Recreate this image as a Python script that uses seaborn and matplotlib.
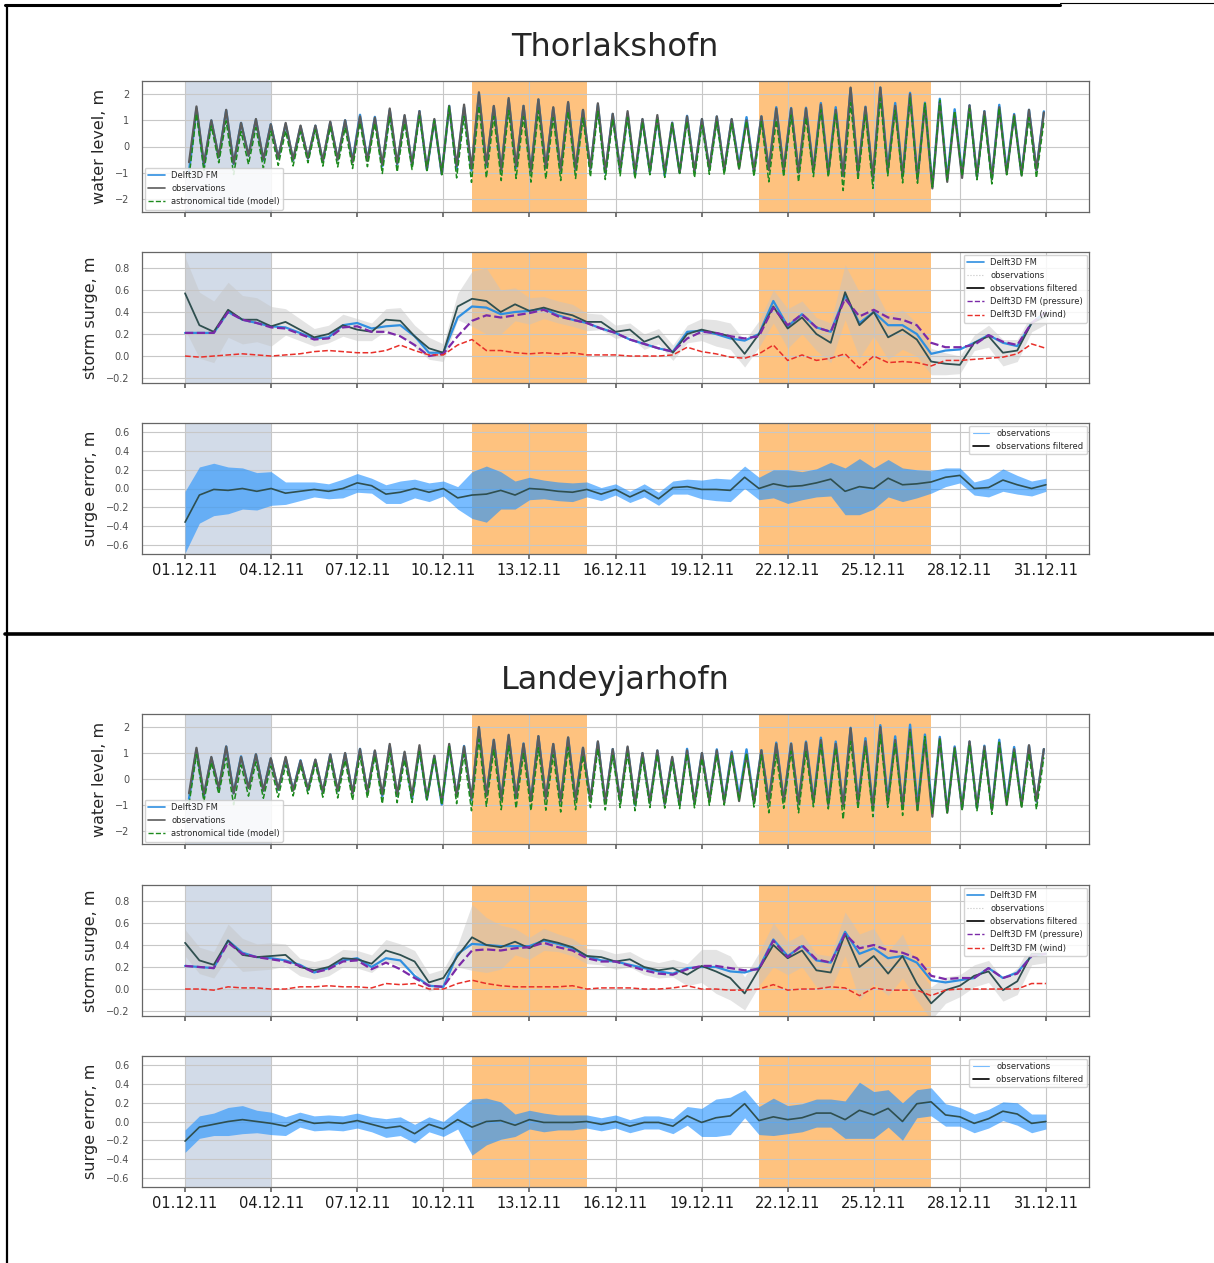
import numpy as np
import pandas as pd
import matplotlib
matplotlib.use("Agg")
import matplotlib.pyplot as plt
import matplotlib.dates as mdates
from matplotlib.lines import Line2D
import seaborn as sns

# ==============================================================================
# DATA
# ==============================================================================
# half-day axis for the surge curves, 01.12.11 00:00 ... 31.12.11 00:00
T_HALF = pd.date_range("2011-12-01", "2011-12-31", freq="12h")
# tidal extremes (LW, HW, LW, ...), one every 6.21 h, first low water 01.12 03:20
T_EXT = pd.date_range("2011-12-01 03:20", periods=116, freq="373min")
TICK_DATES = pd.date_range("2011-12-01", "2011-12-31", freq="3D")

SPAN_START = ["2011-12-01", "2011-12-11", "2011-12-21"]
SPAN_END = ["2011-12-04", "2011-12-15", "2011-12-27"]
SPAN_COLORS = ["#d2dbe8", "#fec27f", "#fec27f"]

# --- Thorlakshofn ---
THOR_OBS_HW = [1.53, 1.00, 1.40, 0.90, 1.05, 0.85, 0.90, 0.80, 0.80, 0.95,
               1.00, 1.15, 1.10, 1.45, 1.20, 1.35, 1.05, 1.55, 1.60, 2.07,
               1.55, 1.85, 1.55, 1.80, 1.50, 1.70, 1.40, 1.65, 1.25, 1.35,
               1.05, 1.20, 0.90, 1.15, 1.05, 1.15, 1.05, 1.00, 1.15, 1.45,
               1.45, 1.45, 1.60, 1.40, 2.25, 1.50, 2.25, 1.55, 2.00, 1.60,
               1.70, 1.28, 1.57, 1.34, 1.50, 1.20, 1.40, 1.30]
THOR_OBS_LW = [-0.60, -0.65, -0.40, -0.65, -0.35, -0.50,
               -0.45, -0.50, -0.45, -0.55, -0.50, -0.60, -0.55,
               -0.70, -0.65, -0.70, -0.85, -1.05,
               -0.75, -0.85, -0.70, -0.90, -0.75, -0.95, -0.80, -0.90, -0.85,
               -0.85, -0.95, -0.90, -1.00, -0.95, -1.00, -1.00, -0.95, -0.85,
               -0.90, -0.85, -0.95, -0.90, -0.90, -1.00, -0.95,
               -1.05, -1.10, -1.00, -1.20, -0.95, -1.15, -1.25, -1.60,
               -1.35, -1.20, -1.15, -1.25, -1.05, -1.10, -0.90]
THOR_SURGE_OBS = [0.57, 0.28, 0.22, 0.42, 0.33, 0.33, 0.27, 0.31, 0.24, 0.17,
                  0.20, 0.28, 0.24, 0.22, 0.33, 0.32, 0.18, 0.07, 0.03, 0.45,
                  0.52, 0.50, 0.40, 0.47, 0.41, 0.44, 0.40, 0.37, 0.31, 0.31,
                  0.22, 0.24, 0.13, 0.18, 0.03, 0.20, 0.24, 0.21, 0.18, 0.02,
                  0.20, 0.45, 0.25, 0.35, 0.20, 0.12, 0.58, 0.28, 0.40, 0.17,
                  0.24, 0.15, -0.05, -0.07, -0.08, 0.12, 0.18, 0.03, 0.05, 0.30,
                  0.36]
THOR_SURGE_MODEL = [0.21, 0.21, 0.21, 0.40, 0.33, 0.30, 0.27, 0.26, 0.21, 0.16,
                    0.17, 0.28, 0.30, 0.25, 0.27, 0.28, 0.18, 0.03, 0.03, 0.35,
                    0.45, 0.44, 0.38, 0.40, 0.41, 0.43, 0.37, 0.33, 0.30, 0.25,
                    0.21, 0.15, 0.11, 0.07, 0.04, 0.22, 0.23, 0.20, 0.16, 0.14,
                    0.20, 0.50, 0.27, 0.38, 0.26, 0.22, 0.55, 0.30, 0.40, 0.28,
                    0.28, 0.20, 0.02, 0.05, 0.06, 0.12, 0.19, 0.12, 0.09, 0.30,
                    0.40]
THOR_SURGE_PRESSURE = [0.21, 0.21, 0.21, 0.40, 0.33, 0.30, 0.26, 0.25, 0.20, 0.15,
                       0.16, 0.26, 0.27, 0.22, 0.22, 0.18, 0.10, 0.00, 0.02, 0.18,
                       0.32, 0.37, 0.35, 0.37, 0.39, 0.42, 0.36, 0.33, 0.30, 0.25,
                       0.21, 0.15, 0.11, 0.07, 0.04, 0.16, 0.22, 0.21, 0.18, 0.16,
                       0.18, 0.44, 0.28, 0.38, 0.26, 0.22, 0.52, 0.36, 0.42, 0.35,
                       0.33, 0.28, 0.12, 0.08, 0.08, 0.10, 0.19, 0.13, 0.10, 0.30,
                       0.40]
THOR_SURGE_WIND = [0.00, -0.01, 0.00, 0.01, 0.02, 0.01, 0.00, 0.01, 0.02, 0.04,
                   0.05, 0.04, 0.03, 0.03, 0.05, 0.10, 0.05, 0.01, 0.01, 0.10,
                   0.15, 0.05, 0.05, 0.03, 0.02, 0.03, 0.02, 0.03, 0.01, 0.01,
                   0.01, 0.00, 0.00, 0.00, 0.01, 0.08, 0.04, 0.02, -0.01, -0.02,
                   0.02, 0.10, -0.04, 0.01, -0.04, -0.02, 0.02, -0.11, 0.00, -0.06,
                   -0.05, -0.06, -0.09, -0.04, -0.04, -0.03, -0.02, -0.01, 0.02, 0.11,
                   0.07]
# half-width of the noisy (unfiltered) observation band
THOR_NOISE = [0.33, 0.30, 0.28, 0.25, 0.22, 0.20, 0.18, 0.12,
              0.10, 0.08, 0.08, 0.10, 0.10, 0.08, 0.10, 0.12, 0.10, 0.10, 0.08, 0.12,
              0.25, 0.30, 0.20, 0.15, 0.12, 0.10, 0.10, 0.10,
              0.08, 0.07, 0.06, 0.06, 0.07, 0.07, 0.07, 0.08, 0.10, 0.12, 0.12, 0.12,
              0.12, 0.15, 0.18, 0.15, 0.15, 0.18, 0.25, 0.30, 0.22, 0.20, 0.18, 0.15, 0.12, 0.10,
              0.08, 0.07, 0.10, 0.12, 0.10, 0.08, 0.07]

# --- Landeyjarhofn ---
LAND_OBS_HW = [1.20, 0.85, 1.25, 0.85, 0.95, 0.80, 0.85, 0.70, 0.75, 0.95,
               1.00, 1.15, 1.10, 1.35, 1.05, 1.30, 0.90, 1.35, 1.25, 2.00,
               1.50, 1.70, 1.35, 1.65, 1.35, 1.60, 1.20, 1.45, 1.15, 1.25,
               1.00, 1.10, 0.85, 1.10, 1.00, 1.10, 1.00, 0.95, 1.10, 1.35,
               1.35, 1.40, 1.50, 1.35, 1.95, 1.45, 2.00, 1.50, 1.90, 1.50,
               1.55, 1.20, 1.45, 1.25, 1.40, 1.15, 1.30, 1.15]
LAND_OBS_LW = [-0.55, -0.60, -0.35, -0.55, -0.35, -0.45,
               -0.40, -0.45, -0.40, -0.50, -0.45, -0.55, -0.50,
               -0.60, -0.60, -0.65, -0.75, -0.90,
               -0.65, -0.75, -0.65, -0.80, -0.70, -0.85, -0.75, -0.85, -0.80,
               -0.80, -0.90, -0.85, -0.95, -0.90, -0.95, -0.95, -0.90, -0.85,
               -0.90, -0.85, -0.90, -0.90, -0.85, -0.95, -0.90,
               -1.00, -1.05, -0.95, -1.15, -0.95, -1.10, -1.20, -1.45,
               -1.30, -1.15, -1.10, -1.20, -1.00, -1.05, -0.85]
LAND_SURGE_OBS = [0.42, 0.26, 0.22, 0.44, 0.31, 0.29, 0.30, 0.31, 0.20, 0.17,
                  0.20, 0.28, 0.27, 0.23, 0.35, 0.31, 0.25, 0.06, 0.10, 0.30,
                  0.47, 0.40, 0.38, 0.43, 0.37, 0.45, 0.42, 0.38, 0.30, 0.29,
                  0.25, 0.27, 0.20, 0.17, 0.19, 0.13, 0.21, 0.16, 0.10, -0.04,
                  0.18, 0.40, 0.28, 0.35, 0.17, 0.15, 0.50, 0.20, 0.30, 0.14,
                  0.30, 0.05, -0.13, -0.01, 0.03, 0.12, 0.16, -0.01, 0.07, 0.32,
                  0.32]
LAND_SURGE_MODEL = [0.21, 0.20, 0.19, 0.44, 0.33, 0.29, 0.28, 0.26, 0.22, 0.15,
                    0.19, 0.26, 0.28, 0.20, 0.28, 0.26, 0.12, 0.03, 0.02, 0.32,
                    0.41, 0.40, 0.39, 0.39, 0.39, 0.44, 0.41, 0.37, 0.30, 0.26,
                    0.25, 0.22, 0.19, 0.16, 0.14, 0.19, 0.20, 0.20, 0.16, 0.15,
                    0.19, 0.45, 0.30, 0.39, 0.26, 0.24, 0.52, 0.32, 0.37, 0.28,
                    0.30, 0.24, 0.08, 0.06, 0.08, 0.10, 0.19, 0.10, 0.15, 0.30,
                    0.32]
LAND_SURGE_PRESSURE = [0.21, 0.20, 0.19, 0.42, 0.32, 0.29, 0.27, 0.25, 0.21, 0.15,
                       0.18, 0.25, 0.26, 0.18, 0.24, 0.18, 0.10, 0.03, 0.02, 0.20,
                       0.35, 0.36, 0.35, 0.37, 0.38, 0.42, 0.38, 0.35, 0.28, 0.25,
                       0.25, 0.21, 0.17, 0.14, 0.13, 0.18, 0.21, 0.21, 0.19, 0.17,
                       0.18, 0.44, 0.29, 0.40, 0.27, 0.24, 0.50, 0.37, 0.40, 0.35,
                       0.33, 0.28, 0.12, 0.09, 0.10, 0.10, 0.19, 0.10, 0.14, 0.30,
                       0.32]
LAND_SURGE_WIND = [0.00, 0.00, -0.01, 0.02, 0.01, 0.01, 0.00, 0.00, 0.02, 0.02,
                   0.03, 0.02, 0.02, 0.01, 0.05, 0.04, 0.05, 0.00, 0.00, 0.05,
                   0.08, 0.05, 0.03, 0.02, 0.02, 0.02, 0.02, 0.03, 0.00, 0.01,
                   0.01, 0.01, 0.00, 0.00, 0.01, 0.03, 0.00, 0.00, -0.01, -0.01,
                   0.00, 0.04, -0.01, 0.00, 0.00, 0.02, 0.01, -0.06, 0.01, -0.01,
                   -0.01, -0.01, -0.06, -0.01, 0.00, 0.00, 0.00, 0.00, 0.00, 0.05,
                   0.05]
LAND_NOISE = [0.12, 0.12, 0.12, 0.15, 0.15, 0.12, 0.12, 0.10,
              0.08, 0.08, 0.08, 0.08, 0.08, 0.08, 0.10, 0.10, 0.10, 0.08, 0.08, 0.10,
              0.30, 0.25, 0.20, 0.12, 0.10, 0.10, 0.08, 0.08,
              0.07, 0.07, 0.07, 0.07, 0.07, 0.07, 0.08, 0.10, 0.15, 0.20, 0.20, 0.15,
              0.15, 0.20, 0.15, 0.15, 0.15, 0.15, 0.20, 0.30, 0.25, 0.20, 0.20, 0.15, 0.15, 0.12,
              0.10, 0.10, 0.10, 0.10, 0.12, 0.10, 0.08]

# ==============================================================================
# STYLE
# ==============================================================================
C_MODEL = "#2f8fe0"
C_OBS = "#5c5c5c"
C_TIDE = "#1d8a1d"
C_FILT = "#2f4f4f"
C_PRES = "#7b2aa8"
C_WIND = "#e8302a"
C_ERR = "#1e90ff"
C_RAW = "#c4c4c4"

sns.set_theme(style="whitegrid", rc={
    "grid.color": "0.78", "grid.linewidth": 0.8,
    "axes.edgecolor": "0.4", "axes.linewidth": 0.9,
    "xtick.bottom": True, "xtick.major.size": 3.5, "xtick.color": "0.4",
    "ytick.left": False,
})
plt.rcParams["font.family"] = ["DejaVu Sans"]

W, H = 1214, 1263
fig = plt.figure(figsize=(W / 100, H / 100), dpi=100)


def add_ax(top, bottom):
    return fig.add_axes([142 / W, 1 - bottom / H, (1089 - 142) / W, (bottom - top) / H])


def style_ax(ax, ylabel, yticks, ylim, show_dates):
    for s, e, c in zip(SPAN_START, SPAN_END, SPAN_COLORS):
        ax.axvspan(pd.Timestamp(s), pd.Timestamp(e), color=c, lw=0, zorder=0.1)
    ax.set_axisbelow(True)
    ax.set_xlim(T_HALF[0] - pd.Timedelta("1.5D"), T_HALF[-1] + pd.Timedelta("1.5D"))
    ax.set_xticks(mdates.date2num(TICK_DATES))
    ax.xaxis.set_major_formatter(mdates.DateFormatter("%d.%m.%y"))
    ax.set_yticks(yticks)
    ax.set_ylim(*ylim)
    ax.set_ylabel(ylabel, fontsize=11.5, labelpad=6)
    ax.set_xlabel("")
    ax.tick_params(axis="y", labelsize=7, labelcolor="0.3", pad=3)
    ax.tick_params(axis="x", labelsize=10.5, labelcolor="0.1", pad=3,
                   labelbottom=show_dates)


def draw_station(boxes, title, title_y, obs_hw, obs_lw, s_obs, s_mod, s_pres, s_wind, noise):
    s_obs, s_mod, s_pres, s_wind, noise = map(np.asarray, (s_obs, s_mod, s_pres, s_wind, noise))
    # water level: observed extremes, tide = observed - observed surge of that half day
    wl_obs = np.empty(len(obs_hw) + len(obs_lw))
    wl_obs[0::2] = obs_lw
    wl_obs[1::2] = obs_hw
    half = np.asarray(np.rint((T_EXT - T_HALF[0]) / pd.Timedelta("12h")), dtype=int)
    wl_tide = wl_obs - s_obs[half]
    wl_model = wl_tide + s_mod[half]
    err_filt = s_mod - s_obs

    ax_wl, ax_ss, ax_er = [add_ax(t, b) for t, b in boxes]
    fig.text(615 / W, 1 - title_y / H, title, ha="center", va="center", fontsize=23)

    # --- water level ---
    sns.lineplot(x=T_EXT, y=wl_model, ax=ax_wl, color=C_MODEL, lw=1.7, legend=False)
    sns.lineplot(x=T_EXT, y=wl_obs, ax=ax_wl, color=C_OBS, lw=1.6, legend=False)
    sns.lineplot(x=T_EXT, y=wl_tide, ax=ax_wl, color=C_TIDE, lw=1.1, linestyle="--", legend=False)
    style_ax(ax_wl, "water level, m", [-2, -1, 0, 1, 2], (-2.5, 2.5), False)
    ax_wl.legend(handles=[Line2D([], [], color=C_MODEL, lw=1.2, label="Delft3D FM"),
                          Line2D([], [], color=C_OBS, lw=1.2, label="observations"),
                          Line2D([], [], color=C_TIDE, lw=1.0, ls="--", label="astronomical tide (model)")],
                 loc="lower left", fontsize=6, framealpha=0.85, borderaxespad=0.3)

    # --- storm surge ---
    ax_ss.fill_between(T_HALF, s_obs - noise, s_obs + noise, color=C_RAW, alpha=0.45, lw=0, zorder=1.5)
    sns.lineplot(x=T_HALF, y=s_mod, ax=ax_ss, color=C_MODEL, lw=1.6, legend=False)
    sns.lineplot(x=T_HALF, y=s_obs, ax=ax_ss, color=C_FILT, lw=1.3, legend=False)
    sns.lineplot(x=T_HALF, y=s_pres, ax=ax_ss, color=C_PRES, lw=1.6, linestyle="--", legend=False)
    sns.lineplot(x=T_HALF, y=s_wind, ax=ax_ss, color=C_WIND, lw=1.1, linestyle="--", legend=False)
    style_ax(ax_ss, "storm surge, m", [-0.2, 0.0, 0.2, 0.4, 0.6, 0.8], (-0.245, 0.945), False)
    ax_ss.legend(handles=[Line2D([], [], color=C_MODEL, lw=1.2, label="Delft3D FM"),
                          Line2D([], [], color=C_RAW, lw=0.8, ls=":", label="observations"),
                          Line2D([], [], color="black", lw=1.2, label="observations filtered"),
                          Line2D([], [], color=C_PRES, lw=1.0, ls="--", label="Delft3D FM (pressure)"),
                          Line2D([], [], color=C_WIND, lw=1.0, ls="--", label="Delft3D FM (wind)")],
                 loc="upper right", fontsize=6, framealpha=0.85, borderaxespad=0.3)

    # --- surge error ---
    ax_er.fill_between(T_HALF, err_filt - noise, err_filt + noise, color=C_ERR, alpha=0.6, lw=0, zorder=1.5)
    sns.lineplot(x=T_HALF, y=err_filt, ax=ax_er, color=C_FILT, lw=1.2, legend=False)
    style_ax(ax_er, "surge error, m", [-0.6, -0.4, -0.2, 0.0, 0.2, 0.4, 0.6], (-0.7, 0.7), True)
    ax_er.legend(handles=[Line2D([], [], color=C_ERR, lw=0.8, alpha=0.6, label="observations"),
                          Line2D([], [], color="black", lw=1.2, label="observations filtered")],
                 loc="upper right", fontsize=6, framealpha=0.85, borderaxespad=0.3)


draw_station([(81, 212), (252, 383), (423, 554)], "Thorlakshofn", 47,
             THOR_OBS_HW, THOR_OBS_LW, THOR_SURGE_OBS, THOR_SURGE_MODEL,
             THOR_SURGE_PRESSURE, THOR_SURGE_WIND, THOR_NOISE)
draw_station([(714, 844), (885, 1016), (1056, 1187)], "Landeyjarhofn", 680,
             LAND_OBS_HW, LAND_OBS_LW, LAND_SURGE_OBS, LAND_SURGE_MODEL,
             LAND_SURGE_PRESSURE, LAND_SURGE_WIND, LAND_NOISE)

# table borders around the two figures
for xs, ys, lw in [((5, 1060), (5, 5), 2.2), ((1060, W), (3, 3), 0.8),
                   ((7, 7), (5, H), 1.6), ((5, W), (634, 634), 2.6)]:
    fig.add_artist(Line2D([x / W for x in xs], [1 - y / H for y in ys], color="black", lw=lw))

fig.savefig("out.png", dpi=100)
